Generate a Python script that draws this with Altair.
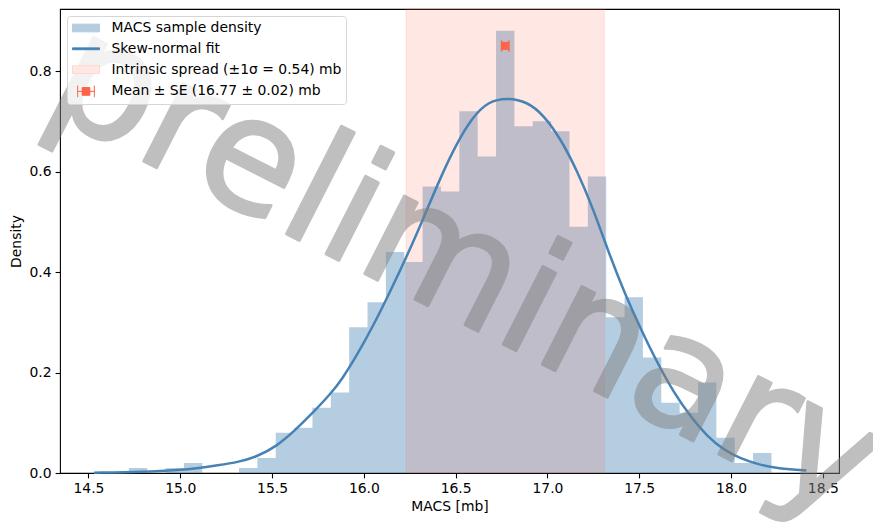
import altair as alt
import pandas as pd

# ---------------- data ----------------
bin_left = [14.72, 14.82, 14.92, 15.02, 15.12, 15.22, 15.32, 15.42, 15.52, 15.62,
            15.72, 15.82, 15.92, 16.02, 16.12, 16.22, 16.32, 16.42, 16.52, 16.62,
            16.72, 16.82, 16.92, 17.02, 17.12, 17.22, 17.32, 17.42, 17.52, 17.62,
            17.72, 17.82, 17.92, 18.02, 18.12]
last_right_edge = 18.22
density = [0.01, 0.00, 0.01, 0.02, 0.00, 0.00, 0.01, 0.03, 0.08, 0.09,
           0.13, 0.16, 0.29, 0.34, 0.44, 0.42, 0.57, 0.56, 0.72, 0.63,
           0.88, 0.69, 0.70, 0.68, 0.49, 0.59, 0.31, 0.35, 0.23, 0.14,
           0.12, 0.18, 0.07, 0.02, 0.04]

curve_x = [14.53, 14.80, 15.00, 15.10, 15.20, 15.32, 15.42, 15.52, 15.62, 15.72,
           15.82, 15.88, 15.96, 16.05, 16.15, 16.25, 16.33, 16.42, 16.50, 16.59,
           16.68, 16.78, 16.89, 16.98, 17.07, 17.16, 17.25, 17.33, 17.42, 17.51,
           17.60, 17.69, 17.78, 17.87, 17.96, 18.05, 18.14, 18.23, 18.32, 18.41]
curve_y = [0.0005, 0.002, 0.006, 0.010, 0.015, 0.022, 0.033, 0.052, 0.083, 0.119,
           0.158, 0.186, 0.233, 0.292, 0.366, 0.444, 0.512, 0.590, 0.652, 0.708,
           0.740, 0.747, 0.739, 0.712, 0.666, 0.603, 0.525, 0.442, 0.358, 0.285,
           0.218, 0.159, 0.112, 0.073, 0.046, 0.029, 0.018, 0.011, 0.007, 0.005]

mean_macs = 16.77
se_macs = 0.02
sigma_macs = 0.54
marker_y = 0.85

legend_labels = ["MACS sample density", "Skew-normal fit",
                 "Intrinsic spread (\u00b11\u03c3 = 0.54) mb",
                 "Mean \u00b1 SE (16.77 \u00b1 0.02) mb"]

x_ticks = [14.5, 15.0, 15.5, 16.0, 16.5, 17.0, 17.5, 18.0, 18.5]
y_ticks = [0.0, 0.2, 0.4, 0.6, 0.8]

watermark_text = "preliminary"
watermark_pos = (16.44, 0.316)

# ---------------- styling ----------------
FONT = "DejaVu Sans"
FS = 13.9
STEEL = "#4682b4"
TOMATO = "#ff6347"

xs = alt.Scale(domain=[14.345, 18.588], nice=False, zero=False)
ys = alt.Scale(domain=[0, 0.9234], nice=False, zero=False)


def X(field="x"):
    return alt.X(f"{field}:Q", scale=xs, title="MACS [mb]",
                 axis=alt.Axis(values=x_ticks, format=".1f"))


def Y(field="y"):
    return alt.Y(f"{field}:Q", scale=ys, title="Density",
                 axis=alt.Axis(values=y_ticks, format=".1f"))


hist_df = pd.DataFrame({"x": bin_left + [last_right_edge], "y": density + [0.0]})
curve_df = pd.DataFrame({"x": curve_x, "y": curve_y})
band_df = pd.DataFrame({"x": [mean_macs - sigma_macs], "x2": [mean_macs + sigma_macs]})
err_df = pd.DataFrame({"x": [mean_macs - se_macs], "x2": [mean_macs + se_macs], "y": [marker_y]})
cap_df = pd.DataFrame({"x": [mean_macs - se_macs, mean_macs + se_macs], "y": [marker_y, marker_y]})
mean_df = pd.DataFrame({"x": [mean_macs], "y": [marker_y]})
wm_df = pd.DataFrame({"x": [watermark_pos[0]], "y": [watermark_pos[1]], "t": [watermark_text]})
leg_df = pd.DataFrame({"x": [100.0] * 4, "y": [0.5] * 4, "label": legend_labels})

hist = alt.Chart(hist_df).mark_area(interpolate="step-after", color=STEEL, opacity=0.4).encode(
    x=X(), y=Y())

band = alt.Chart(band_df).mark_rect(fill=TOMATO, fillOpacity=0.15, stroke=TOMATO,
                                    strokeOpacity=0.15, strokeWidth=1).encode(
    x=X(), x2="x2:Q")

curve = alt.Chart(curve_df).mark_line(color=STEEL, strokeWidth=2.5, interpolate="basis").encode(
    x=X(), y=Y())

err = alt.Chart(err_df).mark_rule(color=TOMATO, strokeWidth=1.5).encode(
    x=X(), x2="x2:Q", y=Y())

caps = alt.Chart(cap_df).mark_tick(orient="vertical", size=11, thickness=1.5,
                                   color=TOMATO, opacity=1).encode(x=X(), y=Y())

mean_pt = alt.Chart(mean_df).mark_point(shape="square", filled=True, size=64,
                                        color=TOMATO, opacity=1).encode(x=X(), y=Y())

watermark = alt.Chart(wm_df).mark_text(font=FONT, fontSize=159, angle=27, align="center",
                                       baseline="alphabetic", fill="#808080", stroke="#808080",
                                       strokeWidth=3, strokeJoin="round", opacity=0.5).encode(
    x=X(), y=Y(), text="t:N")

# legend symbols (custom paths, drawn to the right of the symbol anchor)
paths = [
    "M-0.93,-0.55H2.93V0.55H-0.93Z",
    "M-0.93,-0.13H2.93V0.13H-0.93Z",
    "M-0.93,-0.55H2.93V0.55H-0.93Z",
    "M-0.19,-0.83V0.83M2.19,-0.83V0.83M-0.19,0H2.19M0.45,-0.55H1.55V0.55H0.45Z",
]
fills = ["#b5cde1", STEEL, "#ffe8e4", TOMATO]
strokes = ["#b5cde1", STEEL, "#ffd6cf", TOMATO]


def leg():
    return alt.Legend(title=None, orient="top-left", offset=7, padding=4.5, rowPadding=5.8,
                      labelOffset=25, symbolSize=196, symbolStrokeWidth=1,
                      labelFont=FONT, labelFontSize=FS, labelColor="black", labelLimit=400,
                      strokeColor="#d6d6d6", fillColor="rgba(255,255,255,0.8)",
                      cornerRadius=3)


legend_layer = alt.Chart(leg_df).mark_point(filled=True, clip=True, opacity=1, size=196,
                                            strokeWidth=1).encode(
    x=X(), y=Y(),
    color=alt.Color("label:N", scale=alt.Scale(domain=legend_labels, range=fills), legend=leg()),
    stroke=alt.Stroke("label:N", scale=alt.Scale(domain=legend_labels, range=strokes), legend=leg()),
    shape=alt.Shape("label:N", scale=alt.Scale(domain=legend_labels, range=paths), legend=leg()),
)

chart = alt.layer(hist, band, curve, err, caps, mean_pt, watermark, legend_layer).properties(
    width=779, height=464,
    padding={"left": 60, "top": 9, "right": 34, "bottom": 51},
    autosize=alt.AutoSizeParams(type="none"),
).configure_view(stroke="black", strokeWidth=1.1).configure_axis(
    grid=False, domain=False, tickColor="black", tickSize=4.9, tickWidth=1.1,
    labelFont=FONT, labelFontSize=FS, labelColor="black", labelPadding=4,
    titleFont=FONT, titleFontSize=FS, titleColor="black", titleFontWeight="normal",
).configure_axisX(titlePadding=4).configure_axisY(titlePadding=6)

chart.save("out.html", embed_options={"renderer": "svg", "actions": False})
